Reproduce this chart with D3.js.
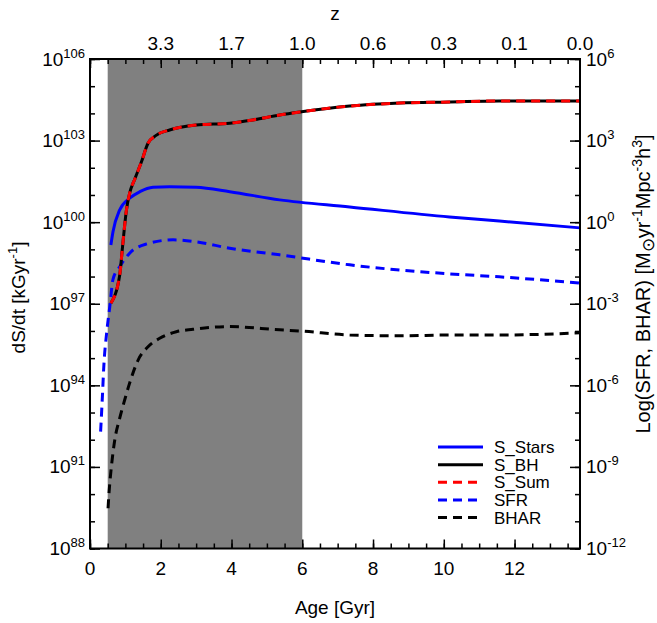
<!doctype html>
<html>
<head>
<meta charset="utf-8">
<title>entropy</title>
<script src="https://d3js.org/d3.v7.min.js"></script>
<style>
  body { margin: 0; background: #fff; }
  text { font-family: "Liberation Sans", Arial, sans-serif; fill: #000; }
</style>
</head>
<body>
<script>

// data (exponents, log10)
var ageBH    = [0.59, 0.84, 0.92, 1.03, 1.12, 1.27, 1.45, 1.64, 1.88, 2.25, 3.0, 3.95, 4.6, 5.36, 5.93, 7.34, 8.75, 10.16, 11.57, 13.85];
var logSBH   = [97.02, 98.06, 99.1, 100.45, 101.06, 101.6, 102.2, 102.9, 103.2, 103.39, 103.57, 103.64, 103.76, 103.94, 104.05, 104.27, 104.38, 104.42, 104.46, 104.46];
var logSSum  = [97.02, 98.06, 99.1, 100.45, 101.06, 101.6, 102.2, 102.9, 103.2, 103.39, 103.57, 103.64, 103.76, 103.94, 104.05, 104.27, 104.38, 104.42, 104.46, 104.46];

var ageStars = [0.59, 0.65, 0.84, 1.12, 1.41, 1.78, 2.25, 3.0, 3.95, 5.36, 7.34, 10.16, 11.57, 13.85];
var logSStars = [99.16, 99.65, 100.45, 100.88, 101.12, 101.28, 101.3, 101.28, 101.12, 100.82, 100.56, 100.19, 100.04, 99.79];

// right axis units
var ageSFR = [0.3, 0.35, 0.39, 0.47, 0.56, 0.65, 0.84, 1.12, 1.6, 2.35, 3.0, 3.95, 5.36, 7.34, 10.16, 11.57, 13.85];
var logSFR = [-7.7, -6.42, -5.31, -4.08, -3.1, -2.1, -1.64, -1.14, -0.8, -0.65, -0.72, -0.96, -1.2, -1.57, -1.9, -2.01, -2.24];

var ageBHAR = [0.51, 0.54, 0.6, 0.7, 0.84, 0.98, 1.12, 1.36, 1.64, 1.97, 2.44, 2.91, 3.95, 5.36, 5.93, 7.34, 8.75, 10.16, 11.57, 13.85];
var logBHAR = [-10.52, -9.91, -9.05, -8.01, -7.21, -6.54, -5.92, -5.07, -4.58, -4.27, -4.03, -3.94, -3.84, -3.96, -4.0, -4.15, -4.18, -4.15, -4.15, -4.07];

var ageTicks = [0, 2, 4, 6, 8, 10, 12];
var zTickAges = [2, 4, 6, 8, 10, 12, 13.85];
var zLabels = ["3.3", "1.7", "1.0", "0.6", "0.3", "0.1", "0.0"];
var leftExp = [88, 91, 94, 97, 100, 103, 106];
var rightExp = [-12, -9, -6, -3, 0, 3, 6];
var shadeRange = [0.5, 6.0];

var legendNames = ["S_Stars", "S_BH", "S_Sum", "SFR", "BHAR"];

//set canvas parameters
var W = 657, H = 623;
var pLeft = 90, pRight = 580, pTop = 59, pBottom = 548.5;

var svg = d3.select('body').append('svg')
  .attr('width', W).attr('height', H);

var x = d3.scaleLinear().domain([0, 13.85]).range([pLeft, pRight]);
var yL = d3.scaleLog().domain([1e88, 1e106]).range([pBottom, pTop]);
var yR = d3.scaleLog().domain([1e-12, 1e6]).range([pBottom, pTop]);

// shaded epoch
svg.append('rect')
  .attr('x', x(shadeRange[0])).attr('y', pTop)
  .attr('width', x(shadeRange[1]) - x(shadeRange[0]))
  .attr('height', pBottom - pTop)
  .attr('fill', '#808080');

function toPoints(ages, logs) {
  return ages.map(function (a, i) { return [a, Math.pow(10, logs[i])]; });
}

function drawLine(pts, yScale, color, dash) {
  var line = d3.line()
    .x(function (d) { return x(d[0]); })
    .y(function (d) { return yScale(d[1]); })
    .curve(d3.curveMonotoneX);
  svg.append('path')
    .attr('d', line(pts))
    .attr('fill', 'none')
    .attr('stroke', color)
    .attr('stroke-width', 3)
    .attr('stroke-dasharray', dash || null);
}

drawLine(toPoints(ageBHAR, logBHAR), yR, '#000', '9,6');
drawLine(toPoints(ageSFR, logSFR), yR, '#0000ff', '9,6');
drawLine(toPoints(ageStars, logSStars), yL, '#0000ff');
drawLine(toPoints(ageBH, logSBH), yL, '#000');
drawLine(toPoints(ageBH, logSSum), yL, '#ff0000', '9,6');

// axes: inward ticks
var minorAges = d3.range(0, 13.85, 0.5);
var leftMinor = d3.range(88, 107).map(function (e) { return Math.pow(10, e); });
var rightMinor = d3.range(-12, 7).map(function (e) { return Math.pow(10, e); });

function tickAxis(axis, g) {
  g.call(axis);
  g.select('.domain').remove();
  g.selectAll('line').attr('stroke', '#000').attr('stroke-width', 1.5);
  g.selectAll('text').remove();
}

tickAxis(d3.axisBottom(x).tickValues(minorAges).tickSize(-5),
  svg.append('g').attr('transform', 'translate(0,' + pBottom + ')'));
tickAxis(d3.axisBottom(x).tickValues(ageTicks).tickSize(-9),
  svg.append('g').attr('transform', 'translate(0,' + pBottom + ')'));
tickAxis(d3.axisTop(x).tickValues(minorAges).tickSize(-5),
  svg.append('g').attr('transform', 'translate(0,' + pTop + ')'));
tickAxis(d3.axisTop(x).tickValues(ageTicks).tickSize(-9),
  svg.append('g').attr('transform', 'translate(0,' + pTop + ')'));
tickAxis(d3.axisLeft(yL).tickValues(leftMinor).tickSize(-5),
  svg.append('g').attr('transform', 'translate(' + pLeft + ',0)'));
tickAxis(d3.axisLeft(yL).tickValues(leftExp.map(function (e) { return Math.pow(10, e); })).tickSize(-10),
  svg.append('g').attr('transform', 'translate(' + pLeft + ',0)'));
tickAxis(d3.axisRight(yR).tickValues(rightMinor).tickSize(-5),
  svg.append('g').attr('transform', 'translate(' + pRight + ',0)'));
tickAxis(d3.axisRight(yR).tickValues(rightExp.map(function (e) { return Math.pow(10, e); })).tickSize(-10),
  svg.append('g').attr('transform', 'translate(' + pRight + ',0)'));

// frame
svg.append('rect')
  .attr('x', pLeft).attr('y', pTop)
  .attr('width', pRight - pLeft).attr('height', pBottom - pTop)
  .attr('fill', 'none').attr('stroke', '#000').attr('stroke-width', 2);

// bottom labels
svg.selectAll('.xlab').data(ageTicks).enter().append('text')
  .attr('x', function (d) { return x(d); })
  .attr('y', 575)
  .attr('text-anchor', 'middle')
  .attr('font-size', 19)
  .text(function (d) { return d; });

svg.append('text').attr('x', (pLeft + pRight) / 2).attr('y', 614)
  .attr('text-anchor', 'middle').attr('font-size', 19).text('Age [Gyr]');

// top labels
svg.selectAll('.zlab').data(zTickAges).enter().append('text')
  .attr('x', function (d) { return x(d); })
  .attr('y', 50)
  .attr('text-anchor', 'middle')
  .attr('font-size', 19)
  .text(function (d, i) { return zLabels[i]; });

svg.append('text').attr('x', (pLeft + pRight) / 2).attr('y', 20)
  .attr('text-anchor', 'middle').attr('font-size', 19).text('z');

// power-of-ten labels
function powLabel(xp, yp, exp, anchor) {
  var t = svg.append('text').attr('x', xp).attr('y', yp)
    .attr('text-anchor', anchor).attr('font-size', 19);
  t.append('tspan').text('10');
  t.append('tspan').attr('dy', -8).attr('font-size', 13).text(exp);
}

leftExp.forEach(function (e) { powLabel(85, yL(Math.pow(10, e)) + 6.5, e, 'end'); });
rightExp.forEach(function (e) { powLabel(586, yR(Math.pow(10, e)) + 6.5, e, 'start'); });

// axis titles
var lt = svg.append('text')
  .attr('transform', 'translate(25,297.5) rotate(-90)')
  .attr('text-anchor', 'middle').attr('font-size', 19);
lt.append('tspan').text('dS/dt [kGyr');
lt.append('tspan').attr('dy', -8).attr('font-size', 13).text('-1');
lt.append('tspan').attr('dy', 8).text(']');

var rt = svg.append('text')
  .attr('transform', 'translate(650,284) rotate(-90)')
  .attr('text-anchor', 'middle').attr('font-size', 20);
rt.append('tspan').text('Log(SFR, BHAR) [M');
rt.append('tspan').attr('dy', 4).attr('font-size', 17).text('\u2299');
rt.append('tspan').attr('dy', -4).text('yr');
rt.append('tspan').attr('dy', -8).attr('font-size', 14).text('-1');
rt.append('tspan').attr('dy', 8).text('Mpc');
rt.append('tspan').attr('dy', -8).attr('font-size', 14).text('-3');
rt.append('tspan').attr('dy', 8).text('h');
rt.append('tspan').attr('dy', -8).attr('font-size', 14).text('3');
rt.append('tspan').attr('dy', 8).text(']');

// legend
var legColors = ['#0000ff', '#000', '#ff0000', '#0000ff', '#000'];
var legDash = [null, null, '9,6', '9,6', '9,6'];
var legY = d3.scaleLinear().domain([0, 4]).range([447, 517.5]);

legendNames.forEach(function (name, i) {
  var yy = legY(i);
  svg.append('line').attr('x1', 438).attr('x2', 483).attr('y1', yy).attr('y2', yy)
    .attr('stroke', legColors[i]).attr('stroke-width', 3)
    .attr('stroke-dasharray', legDash[i]);
  svg.append('text').attr('x', 494).attr('y', yy + 6)
    .attr('font-size', 17).text(name);
});

</script>
</body>
</html>
